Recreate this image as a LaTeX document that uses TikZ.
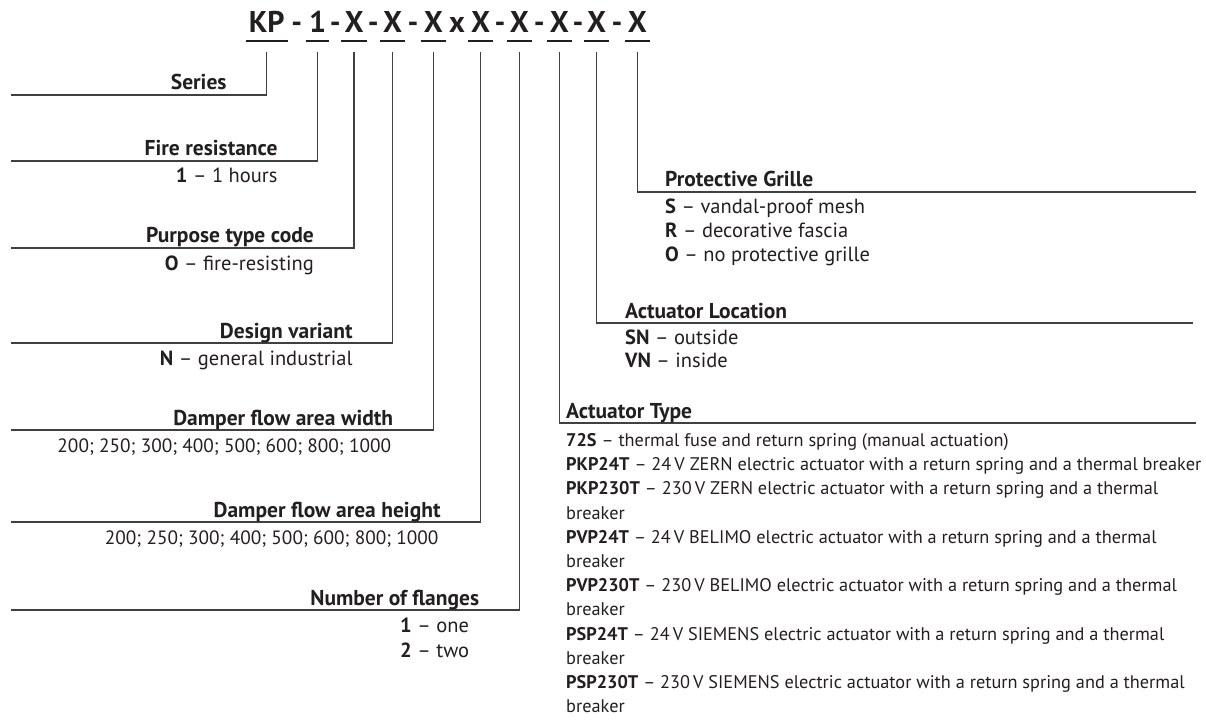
\documentclass[tikz,border=0pt]{standalone}
\usepackage{fontspec}
\setmainfont{PT Sans}
\usetikzlibrary{calc}
\definecolor{Ink}{HTML}{231F20}
\definecolor{Rule}{HTML}{404040}
\tikzset{
    codeseg/.style={inner xsep=1pt, inner ysep=0pt, font=\fontsize{30}{32}\selectfont\bfseries, text=Ink},
    codesep/.style={codeseg, inner xsep=0pt},
    leader/.style={draw=Rule, line width=1.1pt},
    headlbl/.style={inner sep=0pt, font=\fontsize{21.5}{24}\selectfont\bfseries, text=Ink},
    vallbl/.style={inner sep=0pt, font=\fontsize{20.5}{24}\selectfont, text=Ink},
    numlbl/.style={inner sep=0pt, font=\fontsize{19.3}{22}\selectfont, text=Ink},
    typelbl/.style={inner sep=0pt, font=\fontsize{18.3}{22}\selectfont, text=Ink},
}

\begin{document}
\begin{tikzpicture}[x=1pt, y=-1pt]
    \useasboundingbox (0,0) rectangle (1206,727);

    % --- code line ---
    \foreach \nm/\cx/\txt in {kp/266.7/KP, fr/317.7/1, pt/354/X, dv/392.7/X, fw/433.3/X,
                              fh/480.7/X, nf/519.3/X, at/559.3/X, al/596.7/X, pg/637.3/X}
    {
        \node[codeseg, anchor=base] (\nm) at (\cx,33) {\txt};
        \draw[Ink, line width=2.3pt] ([xshift=-2pt, yshift=-8pt]\nm.base west)
            -- ([xshift=2pt, yshift=-8pt]\nm.base east);
    }
    \foreach \a/\b in {kp/fr, fr/pt, pt/dv, dv/fw, fh/nf, nf/at, at/al, al/pg}
        \node[codesep, anchor=base] (hy-\a) at ($(\a.base east)!0.5!(\b.base west)$) {-};
    \node[codesep, anchor=base] (times) at ($(fw.base east)!0.5!(fh.base west)$) {x};

    % --- left branches ---
    \foreach \nm/\ly/\head in {kp/95/Series, fr/161/Fire resistance, pt/248/Purpose type code,
                               dv/343/Design variant, fw/430/Damper flow area width,
                               fh/522/Damper flow area height, nf/610/Number of flanges}
    {
        \coordinate (\nm-end) at (11,\ly);
        \draw[leader] ([yshift=-19pt]\nm.base) |- (\nm-end);
        \path (\nm |- 0,\ly) ++(-40,-5) node[headlbl, anchor=base east] (\nm-head) {\head};
    }

    % values
    \foreach \nm/\ly/\val in {fr/161/{\textbf{1} – 1 hours}, pt/248/{\textbf{O} – fire-resisting},
                              dv/343/{\textbf{N} – general industrial}}
        \path (\nm |- 0,\ly) ++(-40,22) node[vallbl, anchor=base east] (\nm-val) {\val};
    \foreach \nm/\ly in {fw/430, fh/522}
        \path (\nm |- 0,\ly) ++(-42,22) node[numlbl, anchor=base east] (\nm-val)
            {200; 250; 300; 400; 500; 600; 800; 1000};
    \node[vallbl, anchor=base west] (nf-one) at (400,632) {\textbf{1} – one};
    \node[vallbl, anchor=base west] (nf-two) at (400,657) {\textbf{2} – two};

    % --- right branches ---
    \foreach \nm/\ly/\endx/\tx/\head in {pg/192/1196/665/Protective Grille,
                                          al/323/1193/625/Actuator Location,
                                          at/423/1196/566/Actuator Type}
    {
        \coordinate (\nm-end) at (\endx,\ly);
        \draw[leader] ([yshift=-19pt]\nm.base) |- (\nm-end);
        \node[headlbl, anchor=base west] (\nm-head) at (\tx,\ly-5) {\head};
    }

    % grille
    \foreach \i/\val in {0/{\textbf{S} – vandal-proof mesh}, 1/{\textbf{R} – decorative fascia},
                         2/{\textbf{O} – no protective grille}}
        \node[vallbl, anchor=base west] (pg-\i) at (665,213.5+24*\i) {\val};

    % location
    \foreach \i/\val in {0/{\textbf{SN} – outside}, 1/{\textbf{VN} – inside}}
        \node[vallbl, anchor=base west] (al-\i) at (625,344+23.5*\i) {\val};

    % actuator type
    \foreach \i/\val in {0/{\textbf{72S} – thermal fuse and return spring (manual actuation)},
        1/{\textbf{PKP24T} – 24\,V ZERN electric actuator with a return spring and a thermal breaker},
        2/{\textbf{PKP230T} – 230\,V ZERN electric actuator with a return spring and a thermal},
        3/breaker,
        4/{\textbf{PVP24T} – 24\,V BELIMO electric actuator with a return spring and a thermal},
        5/breaker,
        6/{\textbf{PVP230T} – 230\,V BELIMO electric actuator with a return spring and a thermal},
        7/breaker,
        8/{\textbf{PSP24T} – 24\,V SIEMENS electric actuator with a return spring and a thermal},
        9/breaker,
        10/{\textbf{PSP230T} – 230\,V SIEMENS electric actuator with a return spring and a thermal},
        11/breaker}
        \node[typelbl, anchor=base west] (at-\i) at (566,446.5+24.2*\i) {\val};

\end{tikzpicture}
\end{document}
